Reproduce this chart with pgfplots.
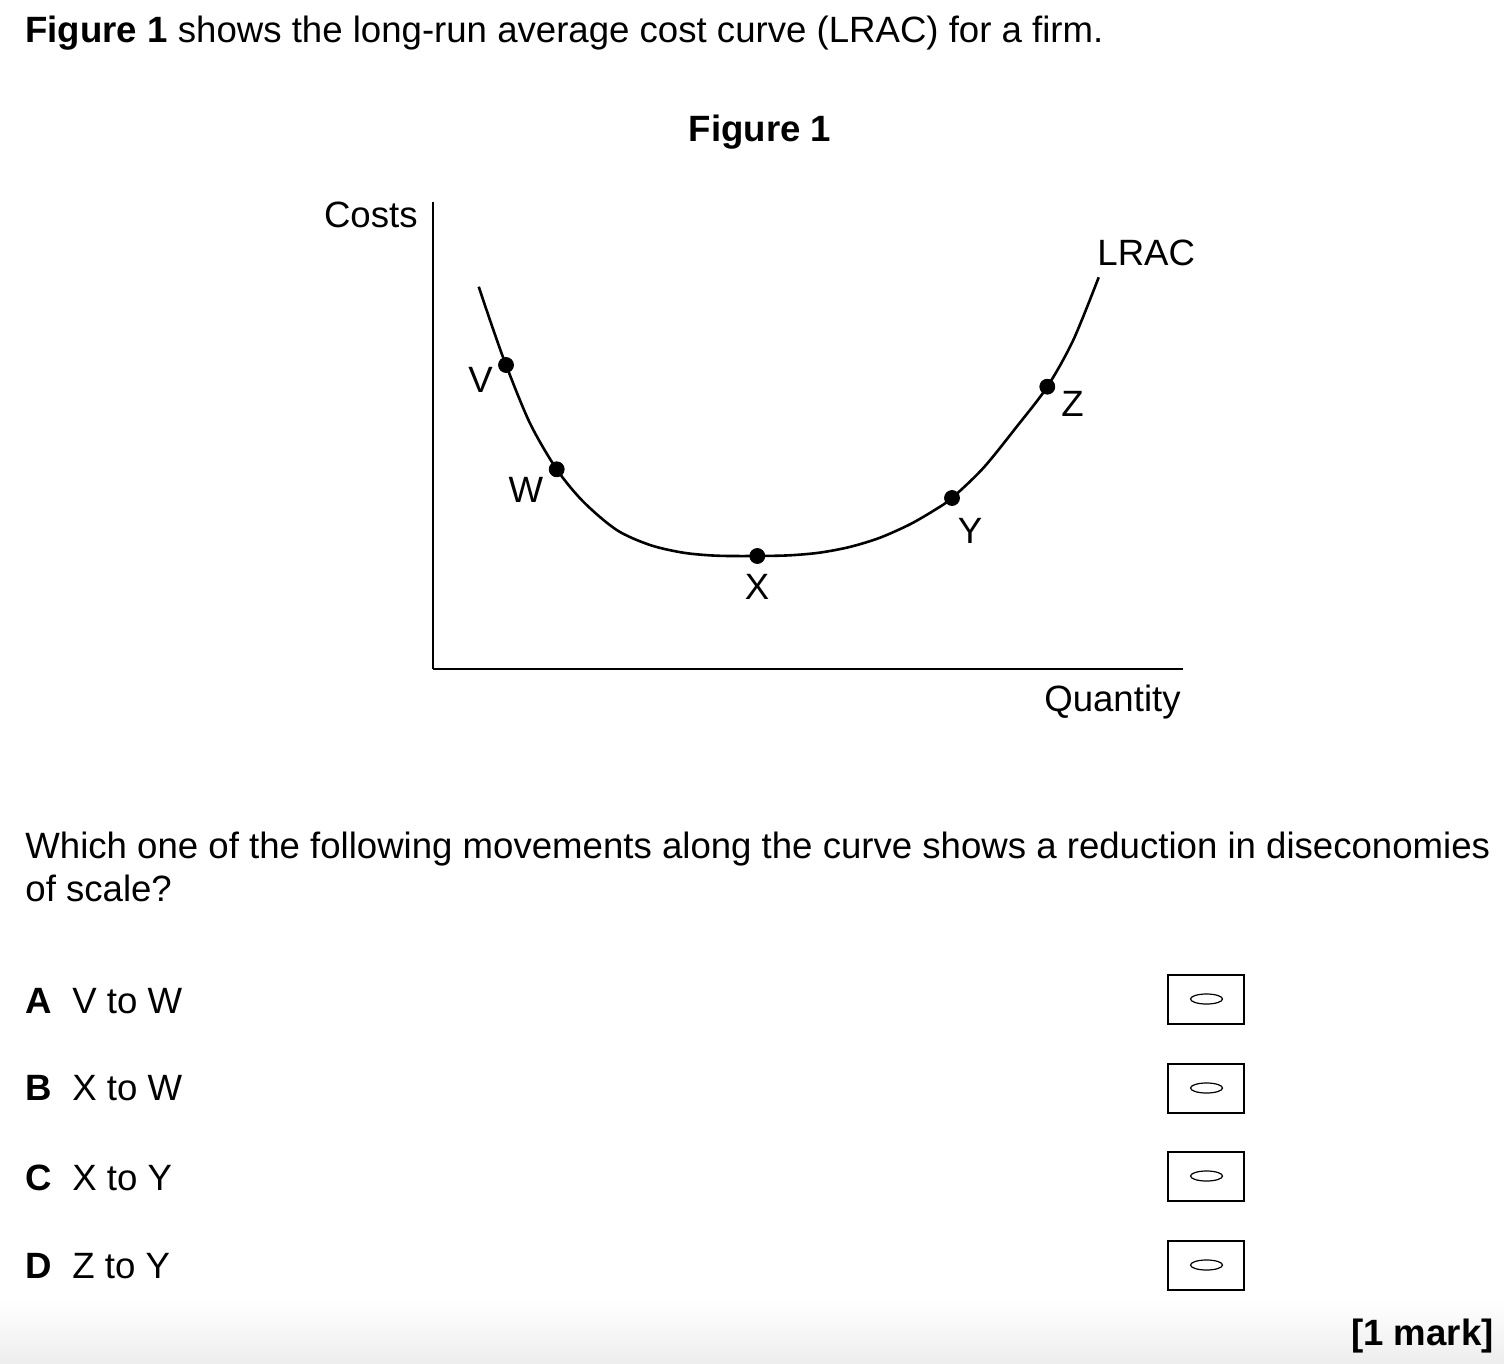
\documentclass[border=0pt]{standalone}
\usepackage{fontspec}
\setmainfont{Liberation Sans}
\usepackage{pgfplots}
\pgfplotsset{compat=1.18}
\begin{document}
\fontsize{18.3}{21.5}\selectfont
\begin{tikzpicture}
\begin{scope}[x=0.5pt,y=-0.5pt]
\path[use as bounding box] (0,0) rectangle (1504,1364);
\shade[top color=white,bottom color=black!7] (0,1300) rectangle (1504,1364);
% header text
\node[anchor=base west,inner sep=0] at (25,43) {\textbf{Figure 1} shows the long-run average cost curve (LRAC) for a firm.};
\node[anchor=base,inner sep=0] at (760,142) {\textbf{Figure 1}};
% chart labels
\node[anchor=base east,inner sep=0] at (418,228) {Costs};
\node[anchor=base west,inner sep=0] at (1097,266) {LRAC};
\node[anchor=base east,inner sep=0] at (1181,711) {Quantity};
\node[anchor=base,inner sep=0] at (480.5,392) {V};
\node[anchor=base,inner sep=0] at (526,502) {W};
\node[anchor=base,inner sep=0] at (757,599) {X};
\node[anchor=base,inner sep=0] at (970,543) {Y};
\node[anchor=base,inner sep=0] at (1072.5,416) {Z};
% question
\node[anchor=base west,inner sep=0] at (25,858) {Which one of the following movements along the curve shows a reduction in diseconomies};
\node[anchor=base west,inner sep=0] at (25,901) {of scale?};
% options
\foreach \L/\T/\yb/\yc in {A/V to W/1013/999, B/X to W/1100/1088, C/X to Y/1190/1176, D/Z to Y/1278/1265}{
  \node[anchor=base west,inner sep=0] at (25,\yb) {\textbf{\L}};
  \node[anchor=base west,inner sep=0] at (72,\yb) {\T};
  \draw[line width=1pt] (1167.5,\yc-24.5) rectangle (1244,\yc+24.5);
  \draw[line width=0.6pt] (1206.5,\yc) ellipse [x radius=16, y radius=5];
}
\node[anchor=base east,inner sep=0] at (1494,1345) {\textbf{[1 mark]}};
\end{scope}
% axis
\begin{axis}[
  at={(216.25pt,-334.5pt)}, anchor=south west,
  scale only axis, width=375.25pt, height=233.5pt,
  xmin=0, xmax=750.5, ymin=0, ymax=467,
  axis lines=left, axis line style={-, line width=1pt},
  xtick=\empty, ytick=\empty,
  clip=false,
]
\addplot[black, line width=1.3pt, smooth, no marks] coordinates {
(46.2,382.3) (59.5,343) (73.5,304) (97.5,245.7) (124.2,199.7) (150.8,167.3)
(184.2,139) (217.5,124) (250.8,116.3) (284.2,113.3) (324.8,113) (357.5,113.7)
(387.5,116.4) (417.5,122.1) (447.5,131.3) (477.5,144.7) (502.5,159.2)
(519.5,171) (550.8,201) (584.2,242.3) (614.8,282.3) (640.8,329) (666.2,391.7)
};
\addplot[only marks, mark=*, mark size=3.75pt, black] coordinates {
(73.5,304) (124.2,199.7) (324.8,113) (519.5,171) (614.8,282.3)
};
\end{axis}
\end{tikzpicture}
\end{document}
